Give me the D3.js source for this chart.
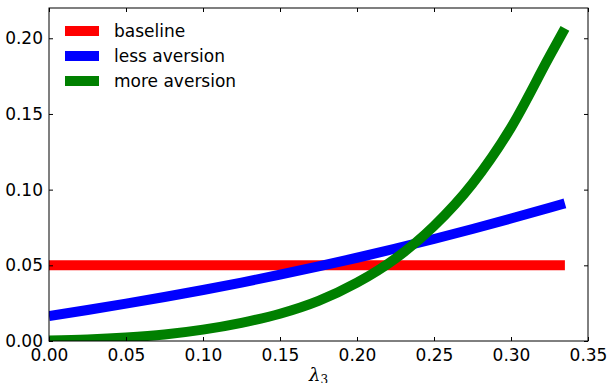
<!DOCTYPE html>
<html>
<head>
<meta charset="utf-8">
<script src="https://cdn.jsdelivr.net/npm/d3@7"></script>
<style>
  body { margin: 0; background: #fff; }
  svg text { font-family: "DejaVu Sans", sans-serif; fill: #000; }
</style>
</head>
<body>
<svg id="chart" width="608" height="383"></svg>
<script>
// lambda_3 sample points
const lambdas = [0, 0.025, 0.05, 0.075, 0.1, 0.125, 0.15, 0.175, 0.2, 0.225, 0.25, 0.275, 0.3, 0.325, 0.335];
const baseline = lambdas.map(() => 0.05);
const lessAversion = [0.0165, 0.0205, 0.0247, 0.0291, 0.0337, 0.0386, 0.0438, 0.0493, 0.0550, 0.0611, 0.0674, 0.0740, 0.0809, 0.0880, 0.0909];
const moreAversion = [0.0003, 0.0010, 0.0023, 0.0043, 0.0075, 0.0120, 0.0180, 0.0265, 0.0385, 0.0545, 0.0760, 0.1040, 0.1410, 0.1880, 0.2065];

const xTicks = [0, 0.05, 0.1, 0.15, 0.2, 0.25, 0.3, 0.35];
const yTicks = [0, 0.05, 0.1, 0.15, 0.2];

const series = [
  { name: "baseline", color: "#ff0000", values: baseline },
  { name: "less aversion", color: "#0000ff", values: lessAversion },
  { name: "more aversion", color: "#008000", values: moreAversion }
];

const margin = { left: 49, right: 20, top: 8, bottom: 42 };
const width = 608, height = 383;

const svg = d3.select("#chart");

const x = d3.scaleLinear().domain([0, 0.35]).range([margin.left, width - margin.right]);
const y = d3.scaleLinear().domain([0, 0.22]).range([height - margin.bottom, margin.top]);

svg.append("clipPath").attr("id", "plot-clip")
  .append("rect")
  .attr("x", margin.left).attr("y", margin.top)
  .attr("width", x.range()[1] - x.range()[0])
  .attr("height", y.range()[0] - y.range()[1]);

const line = d3.line()
  .x((d, i) => x(lambdas[i]))
  .y(d => y(d))
  .curve(d3.curveMonotoneX);

svg.append("g").attr("clip-path", "url(#plot-clip)")
  .selectAll("path")
  .data(series)
  .enter()
  .append("path")
  .attr("d", s => line(s.values))
  .attr("fill", "none")
  .attr("stroke", s => s.color)
  .attr("stroke-width", 10);

// axes: ticks point inward, on all four sides like matplotlib classic
const fmt = d3.format(".2f");
const axisStyle = g => {
  g.select(".domain").remove();
  g.selectAll(".tick line").attr("stroke", "#000");
  g.selectAll("text").attr("font-size", 17);
};

svg.append("g")
  .attr("transform", `translate(0,${y(0)})`)
  .call(d3.axisBottom(x).tickValues(xTicks).tickFormat(fmt).tickSizeInner(-4).tickSizeOuter(0).tickPadding(8))
  .call(axisStyle);

svg.append("g")
  .attr("transform", `translate(0,${y(0.22)})`)
  .call(d3.axisTop(x).tickValues(xTicks).tickFormat("").tickSizeInner(-4).tickSizeOuter(0))
  .call(axisStyle);

svg.append("g")
  .attr("transform", `translate(${x(0)},0)`)
  .call(d3.axisLeft(y).tickValues(yTicks).tickFormat(fmt).tickSizeInner(-4).tickSizeOuter(0).tickPadding(6))
  .call(axisStyle);

svg.append("g")
  .attr("transform", `translate(${x(0.35)},0)`)
  .call(d3.axisRight(y).tickValues(yTicks).tickFormat("").tickSizeInner(-4).tickSizeOuter(0))
  .call(axisStyle);

svg.append("rect")
  .attr("x", x(0)).attr("y", y(0.22))
  .attr("width", x(0.35) - x(0)).attr("height", y(0) - y(0.22))
  .attr("fill", "none").attr("stroke", "#000").attr("stroke-width", 1);

// x label (cut at the bottom edge, as in the original figure)
const xl = svg.append("text")
  .attr("x", (x(0) + x(0.35)) / 2)
  .attr("y", 381)
  .attr("text-anchor", "middle")
  .style("font-family", "'DejaVu Serif', serif")
  .style("font-style", "italic")
  .attr("font-size", 18);
xl.append("tspan").text("λ");
xl.append("tspan").attr("font-size", 12).attr("dy", 3).style("font-style", "normal").text("3");

// legend
const legend = svg.append("g");
series.forEach((s, i) => {
  const cy = 31 + i * 25;
  legend.append("line")
    .attr("x1", 65).attr("x2", 99)
    .attr("y1", cy).attr("y2", cy)
    .attr("stroke", s.color).attr("stroke-width", 10);
  legend.append("text")
    .attr("x", 114).attr("y", cy)
    .attr("dy", "0.35em")
    .attr("font-size", 17)
    .text(s.name);
});
</script>
</body>
</html>
